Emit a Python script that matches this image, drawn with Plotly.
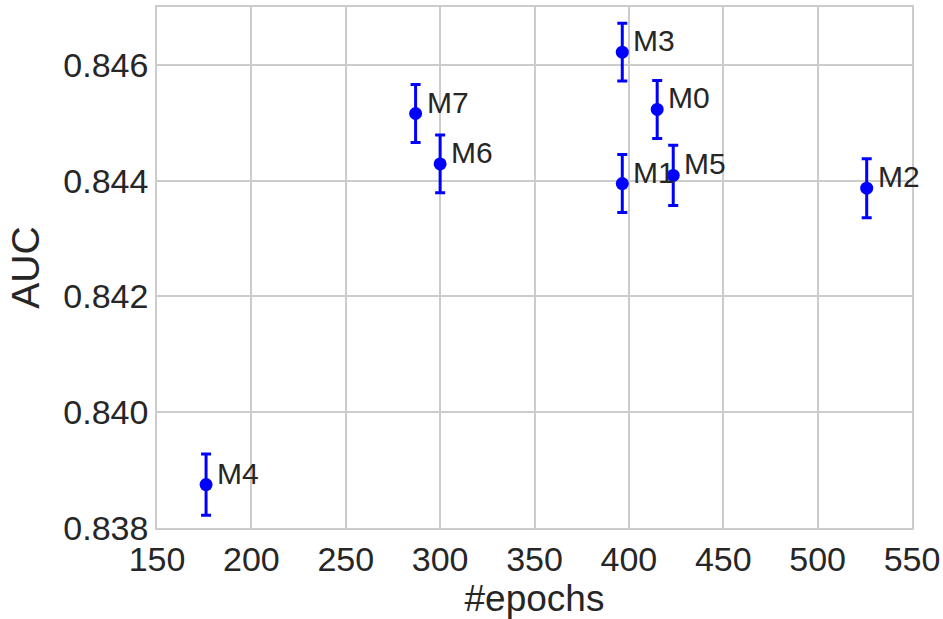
import plotly.graph_objects as go

# Training epochs, mean AUC and spread for each model variant
models = ["M0", "M1", "M2", "M3", "M4", "M5", "M6", "M7"]
epochs = [415, 396.5, 526, 396.5, 176, 423.5, 300, 287]
auc = [0.84523, 0.84395, 0.84387, 0.84622, 0.83875, 0.84409, 0.84429, 0.84516]
auc_err = [0.0005, 0.0005, 0.00051, 0.0005, 0.00053, 0.00052, 0.0005, 0.0005]

FONT = "Liberation Sans, Arial, sans-serif"
TXT = "#262626"
GRID = "#cccccc"

fig = go.Figure()
fig.add_trace(go.Scatter(
    x=epochs, y=auc, mode="markers",
    marker=dict(color="#0000ff", size=13),
    error_y=dict(type="data", array=auc_err, color="#0000ff",
                 thickness=3, width=5),
    showlegend=False,
))

for name, xv, yv in zip(models, epochs, auc):
    fig.add_annotation(x=xv, y=yv, text=name, showarrow=False,
                       xanchor="left", yanchor="bottom",
                       xshift=9, yshift=-7,
                       font=dict(family=FONT, size=30, color=TXT))

axis_common = dict(
    showgrid=True, gridcolor=GRID, gridwidth=1.5,
    showline=True, linecolor=GRID, linewidth=1.5, mirror=True,
    zeroline=False, ticks="", automargin=False,
    tickfont=dict(family=FONT, size=34, color=TXT),
)

fig.update_xaxes(range=[150, 550], dtick=50, tick0=150,
                 title=dict(text="#epochs", font=dict(family=FONT, size=37, color=TXT),
                            standoff=10),
                 **axis_common)
fig.update_yaxes(range=[0.838, 0.847], tickvals=[0.838, 0.840, 0.842, 0.844, 0.846],
                 tickformat=".3f",
                 title=dict(text="AUC", font=dict(family=FONT, size=39, color=TXT),
                            standoff=12),
                 **axis_common)

fig.update_layout(
    width=943, height=619,
    margin=dict(l=157, r=31, t=7, b=91),
    plot_bgcolor="white", paper_bgcolor="white",
)

fig.write_html("out.html")
